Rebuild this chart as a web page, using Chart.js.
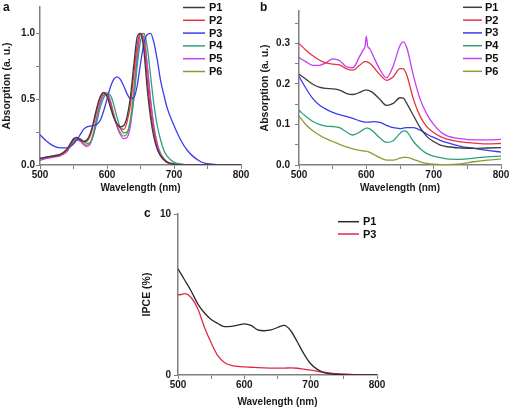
<!DOCTYPE html>
<html><head><meta charset="utf-8">
<script src="https://cdn.jsdelivr.net/npm/chart.js@4"></script>
<style>
body{margin:0;background:#fff;width:510px;height:408px;overflow:hidden;position:relative}
canvas{position:absolute}
</style></head><body>
<canvas id="ca" width="255" height="200" style="left:0;top:0"></canvas>
<canvas id="cb" width="255" height="200" style="left:255px;top:0"></canvas>
<canvas id="cc" width="260" height="208" style="left:135px;top:200px"></canvas>
<script>
// ---------- Panel a : normalized absorption ----------
const wlA = [500,510,520,530,540,545,550,555,560,565,570,575,580,585,590,595,600,605,610,615,620,625,630,635,640,645,650,655,660,665,670,675,680,685,690,700,710,720,740,760,800];
const aP1 = [.05,.06,.07,.08,.12, .16,.20,.21,.19,.18, .19,.24,.33,.44,.52, .55,.52,.44,.36,.31, .29,.30,.37,.52,.76, .97,1.0,.87,.58,.36, .21,.12,.07,.04,.02, .005,0,0,0,0, 0];
const aP2 = [.05,.06,.065,.075,.11, .15,.19,.21,.195,.175, .18,.22,.31,.42,.51, .55,.53,.46,.37,.31, .28,.27,.33,.46,.69, .91,1.0,.92,.66,.41, .24,.13,.07,.04,.02, .005,0,0,0,0, 0];
const aP3 = [.23,.18,.145,.13,.13, .14,.16,.19,.23,.27, .29,.295,.30,.31,.34, .41,.50,.59,.65,.67, .65,.60,.54,.505,.51, .60,.77,.92,.99,1.0, .93,.80,.64,.53,.43, .30,.19,.11,.025,.005, 0];
const aP4 = [.045,.06,.07,.08,.11, .14,.18,.20,.20,.18, .165,.17,.23,.33,.44, .51,.54,.53,.46,.36, .28,.245,.25,.33,.50, .75,.94,1.0,.90,.68, .46,.30,.19,.11,.065, .02,.008,0,0,0, 0];
const aP5 = [.035,.05,.06,.07,.10, .14,.17,.19,.18,.155, .14,.16,.24,.36,.47, .53,.54,.48,.38,.29, .23,.20,.21,.30,.52, .80,1.0,.96,.76,.50, .29,.16,.08,.045,.02, .005,0,0,0,0, 0];
const aP6 = [.04,.055,.065,.075,.11, .15,.18,.20,.19,.165, .15,.17,.25,.37,.48, .54,.55,.49,.39,.30, .245,.22,.24,.35,.58, .85,.99,1.0,.76,.49, .29,.16,.09,.05,.025, .01,.005,0,0,0, 0];

// ---------- Panel b : absorption of films ----------
const wlB = [500,510,520,530,540,550,560,570,580,590,595,598,600,602,605,610,620,630,640,650,655,660,670,680,690,700,710,720,740,760,780,800];
const bP1 = [.224,.212,.200,.192,.189,.188,.185,.177,.174,.179, .183,.185,.185,.185,.183, .178,.162,.147,.152,.166, .165,.152,.122,.092,.070, .058,.049,.045,.042,.041, .042,.043];
const bP2 = [.300,.284,.270,.259,.252,.249,.247,.238,.234,.246, .253,.255,.255,.254,.251, .243,.223,.209,.218,.238, .237,.222,.162,.120,.094, .080,.070,.064,.057,.054, .052,.053];
const bP3 = [.219,.190,.165,.148,.138,.130,.124,.120,.115,.109, .107,.106,.106,.106,.106, .107,.105,.098,.092,.090, .091,.092,.092,.086,.076, .068,.061,.055,.046,.041, .036,.032];
const bP4 = [.135,.120,.108,.100,.096,.095,.092,.082,.074,.081, .087,.090,.091,.091,.089, .083,.067,.056,.060,.078, .084,.082,.058,.040,.028, .022,.018,.015,.014,.017, .020,.022];
const bP5 = [.265,.255,.246,.246,.252,.262,.258,.243,.240,.268, .283,.292,.318,.293,.287, .270,.236,.215,.245,.295, .304,.290,.220,.162,.125, .100,.082,.072,.065,.062, .062,.063];
const bP6 = [.121,.100,.085,.074,.065,.058,.051,.045,.040,.036, .035,.034,.034,.033,.031, .027,.018,.012,.012,.017, .019,.019,.014,.008,.004, .002,.001,.001,.003,.008, .012,.015];

// ---------- Panel c : IPCE ----------
const wlC = [500,505,510,520,530,540,550,560,570,580,590,600,610,620,630,640,650,660,670,680,690,700,710,720,730,740,760,780,800];
const cP1 = [6.6,6.25,5.9,5.2,4.4, 3.85,3.45,3.2,3.0,3.02, 3.1,3.18,3.08,2.8,2.75, 2.8,2.95,3.08,2.75,2.05, 1.3,0.7,0.35,0.15,0.07, 0.03,0.01,0,0];
const cP3 = [4.98,5.0,5.05,4.8,4.1, 2.95,2.0,1.2,0.78,0.6, 0.53,0.5,0.48,0.46,0.44, 0.43,0.43,0.43,0.44,0.42, 0.36,0.3,0.23,0.17,0.12, 0.08,0.04,0.01,0];

const seriesNames = ['P1','P2','P3','P4','P5','P6'];
const colorsAB = ['#3c3c3c','#e8333d','#3b3bef','#2f9f7a','#c63df2','#8f9b2c'];
const colorsC = ['#2a2a2a','#e0294a'];

const FONT = '"Liberation Sans", Arial, Helvetica, sans-serif';
const AXC = '#808080';
const TXT = '#1a1a1a';

function pts(wl, vals){ return wl.map((x,i)=>({x:x, y:vals[i]})); }
function makeDatasets(wl, arrs, names, colors){
  return arrs.map((a,i)=>({label:names[i], data:pts(wl,a), borderColor:colors[i], backgroundColor:colors[i],
    borderWidth:1.3, pointRadius:0, cubicInterpolationMode:'monotone', fill:false}));
}

const deco = {
  id:'panelDeco',
  afterDraw(chart, args, o){
    const ctx = chart.ctx; ctx.save();
    ctx.textBaseline='middle'; ctx.textAlign='left';
    ctx.fillStyle = '#111';
    ctx.font = 'bold 12px ' + FONT;
    ctx.fillText(o.letter, o.lx, o.ly);
    ctx.font = 'bold 11px ' + FONT;
    chart.data.datasets.forEach((ds,i)=>{
      const y = o.legY + i*o.legDy;
      ctx.strokeStyle = ds.borderColor; ctx.lineWidth = 1.5;
      ctx.beginPath(); ctx.moveTo(o.legX, y); ctx.lineTo(o.legX+o.legLen, y); ctx.stroke();
      ctx.fillStyle = '#111';
      ctx.fillText(ds.label, o.legTextX, y+0.5);
    });
    ctx.restore();
  }
};

function xAxis(h, titlePad){
  return {type:'linear', min:500, max:800,
    ticks:{stepSize:50, autoSkip:false, maxRotation:0, padding:0, color:TXT,
      font:{family:FONT, size:10, weight:'bold'},
      callback:v=> (v%100===0 ? String(v) : '')},
    grid:{drawOnChartArea:false, tickLength:4, color:AXC, lineWidth:1},
    border:{color:AXC, width:1.5},
    title:{display:true, text:'Wavelength (nm)', color:TXT, font:{family:FONT, size:10, weight:'bold'}, padding:{top:0,bottom:titlePad}},
    afterFit:s=>{ s.height = h; }
  };
}
function yAxis(w, max, step, labelStep, decimals, topTick, title, titlePad, tickPad){
  return {type:'linear', min:0, max:max,
    ticks:{stepSize:step, autoSkip:false, padding:tickPad, color:TXT,
      font:{family:FONT, size:10, weight:'bold'},
      callback:v=>{ const r=v/labelStep; return Math.abs(r-Math.round(r))<1e-6 ? v.toFixed(decimals) : ''; }},
    afterBuildTicks:s=>{ s.ticks = s.ticks.filter(t=>t.value <= topTick+1e-9); },
    grid:{drawOnChartArea:false, tickLength:4, color:AXC, lineWidth:1},
    border:{color:AXC, width:1.5},
    title:{display:true, text:title, color:TXT, font:{family:FONT, size:10.5, weight:'bold'}, padding:{top:titlePad,bottom:0}},
    afterFit:s=>{ s.width = w; }
  };
}
function baseOptions(pad, xs, ys, decoOpts){
  return {responsive:false, animation:false, devicePixelRatio:1,
    layout:{padding:pad},
    plugins:{legend:{display:false}, tooltip:{enabled:false}, panelDeco:decoOpts},
    scales:{x:xs, y:ys}};
}

new Chart(document.getElementById('ca'), {
  type:'line',
  data:{datasets:makeDatasets(wlA,[aP1,aP2,aP3,aP4,aP5,aP6],seriesNames,colorsAB)},
  options:baseOptions({top:3,right:14,left:0,bottom:0}, xAxis(35,6),
    yAxis(40,1.2,0.25,0.5,1,1.0,'Absorption (a. u.)',1,1),
    {letter:'a', lx:3, ly:8, legX:183, legLen:22, legTextX:209, legY:7.5, legDy:12.8}),
  plugins:[deco]
});

new Chart(document.getElementById('cb'), {
  type:'line',
  data:{datasets:makeDatasets(wlB,[bP1,bP2,bP3,bP4,bP5,bP6],seriesNames,colorsAB)},
  options:baseOptions({top:3,right:9,left:0,bottom:0}, xAxis(35,6),
    yAxis(44,0.38,0.05,0.1,1,0.35,'Absorption (a. u.)',4,5),
    {letter:'b', lx:5, ly:8, legX:208, legLen:19, legTextX:230, legY:7.3, legDy:12.8}),
  plugins:[deco]
});

new Chart(document.getElementById('cc'), {
  type:'line',
  data:{datasets:makeDatasets(wlC,[cP1,cP3],['P1','P3'],colorsC)},
  options:baseOptions({top:14,right:18,left:0,bottom:0}, xAxis(33,0),
    yAxis(43,10,10,10,0,10,'IPCE (%)',6,3),
    {letter:'c', lx:9, ly:14, legX:203, legLen:21, legTextX:228, legY:21.7, legDy:12.3}),
  plugins:[deco]
});
</script>
</body></html>
